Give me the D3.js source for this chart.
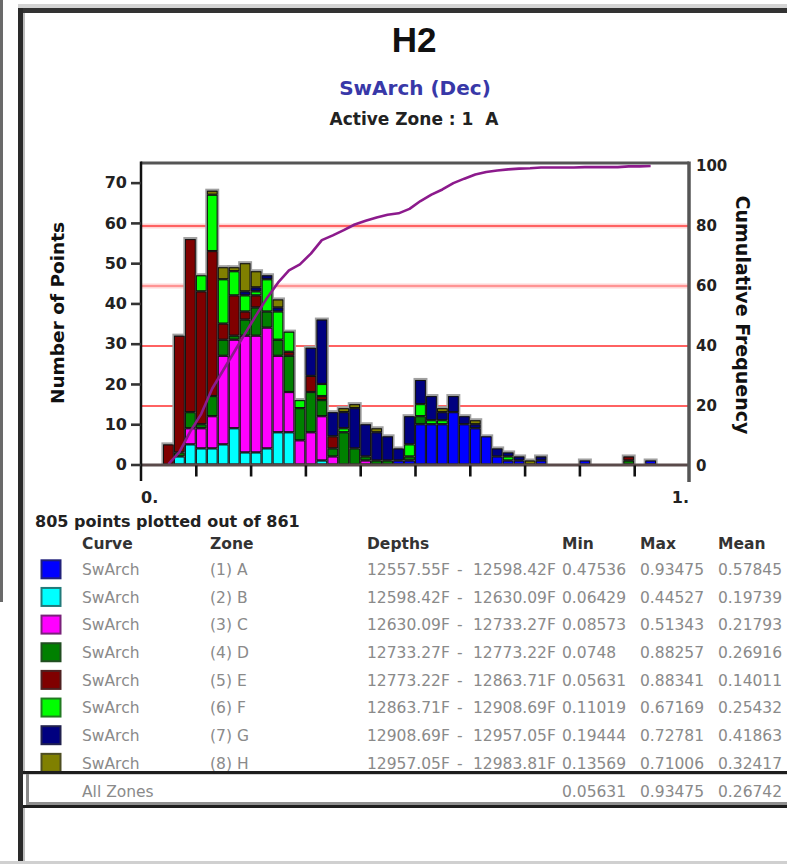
<!DOCTYPE html>
<html><head><meta charset="utf-8">
<script src="https://cdn.jsdelivr.net/npm/d3@7"></script>
<style>
html,body{margin:0;padding:0;background:#fff;}
svg{display:block;}
</style></head>
<body><svg id="c" width="787" height="864"></svg>
<script>
// ---------------- DATA ----------------
const titleText = "H2";
const curveTitle = "SwArch (Dec)";
const activeZoneText = "Active Zone : 1  A";
const plottedText = "805 points plotted out of 861";
const yLeftTicks = [0, 10, 20, 30, 40, 50, 60, 70];
const yRightTicks = [0, 20, 40, 60, 80, 100];
const gridValues = [20, 40, 60, 80];
const xTicks = [0.1, 0.2, 0.3, 0.4, 0.5, 0.6, 0.7, 0.8, 0.9];
const xTickLabels = [[0, "0."], [1, "1."]];
const binWidth = 0.02;
const zoneKeys = ["A", "B", "C", "D", "E", "F", "G", "H"];
const zoneColors = ["#0000ff", "#00ffff", "#ff00ff", "#008000", "#800000", "#00ff00", "#000080", "#808000"];
// counts per 0.02 bin (bins 0..49)
const zoneA = [0,0,0,0,0,0,0,0,0,0, 0,0,0,0,0,0,0,0,0,0, 0,0,0,1,1,10,10,10,13,10, 9,7,2,1,1,0,1,0,0,0, 1,0,0,0,0,0,1,0,0,0];
const zoneB = [0,0,0,2,5,4,4,5,9,3, 3,4,8,8,0,0,1,0,0,0, 0,0,0,0,0,0,0,0,0,0, 0,0,0,0,0,0,0,0,0,0, 0,0,0,0,0,0,0,0,0,0];
const zoneC = [0,0,0,0,4,5,8,22,22,29, 29,30,19,10,6,8,11,2,0,0, 1,0,0,0,0,0,0,0,0,0, 0,0,0,0,0,0,0,0,0,0, 0,0,0,0,0,0,0,0,0,0];
const zoneD = [0,0,0,1,4,1,5,4,1,4, 7,4,4,9,8,10,4,2,8,4, 1,1,1,0,1,2,0,0,0,0, 0,0,0,0,0,0,0,0,0,0, 0,0,0,0,1,0,0,0,0,0];
const zoneE = [0,0,5,29,43,33,36,4,10,2, 3,0,0,1,0,4,1,3,0,0, 0,0,0,0,0,0,0,0,0,0, 0,0,0,0,0,0,0,0,0,0, 0,0,0,0,1,0,0,0,0,0];
const zoneF = [0,0,0,0,0,4,14,11,6,4, 1,8,7,5,2,0,3,0,1,0, 0,0,0,0,3,3,1,1,0,0, 0,0,0,1,0,0,0,0,0,0, 0,0,0,0,0,0,0,0,0,0];
const zoneG = [0,0,0,0,0,0,0,0,0,1, 1,1,1,0,0,7,16,6,4,10, 8,7,6,3,7,6,6,2,4,2, 1,0,2,1,1,0,1,0,0,0, 0,0,0,0,0,0,0,0,0,0];
const zoneH = [0,0,0,0,0,0,1,3,1,7, 4,0,2,0,0,0,0,0,1,1, 0,1,0,0,0,0,0,1,0,0, 1,0,0,0,0,1,0,0,0,0, 0,0,0,0,0,0,0,0,0,0];
const zoneSeries = [zoneA, zoneB, zoneC, zoneD, zoneE, zoneF, zoneG, zoneH];

// table
const tableHeaders = ["Curve", "Zone", "Depths", "Min", "Max", "Mean"];
const tableCurves = ["SwArch","SwArch","SwArch","SwArch","SwArch","SwArch","SwArch","SwArch"];
const tableZones = ["(1) A","(2) B","(3) C","(4) D","(5) E","(6) F","(7) G","(8) H"];
const depthTop = ["12557.55F","12598.42F","12630.09F","12733.27F","12773.22F","12863.71F","12908.69F","12957.05F"];
const depthBottom = ["12598.42F","12630.09F","12733.27F","12773.22F","12863.71F","12908.69F","12957.05F","12983.81F"];
const zoneMin = ["0.47536","0.06429","0.08573","0.0748","0.05631","0.11019","0.19444","0.13569"];
const zoneMax = ["0.93475","0.44527","0.51343","0.88257","0.88341","0.67169","0.72781","0.71006"];
const zoneMean = ["0.57845","0.19739","0.21793","0.26916","0.14011","0.25432","0.41863","0.32417"];
const allZonesLabel = "All Zones";
const allMin = "0.05631", allMax = "0.93475", allMean = "0.26742";

// ---------------- DRAW ----------------
const svg = d3.select("#c");
const F = "'DejaVu Sans', sans-serif";

// window chrome
svg.append("rect").attr("x",0).attr("y",0).attr("width",3).attr("height",602).attr("fill","#6a6a6a");
svg.append("rect").attr("x",18).attr("y",4).attr("width",769).attr("height",4).attr("fill","#d4d4d4");
svg.append("rect").attr("x",18).attr("y",8).attr("width",769).attr("height",5).attr("fill","#333");
svg.append("rect").attr("x",18).attr("y",8).attr("width",5).attr("height",856).attr("fill","#2a2a2a");
svg.append("rect").attr("x",23).attr("y",13).attr("width",2).attr("height",851).attr("fill","#bdbdbd");

// titles
svg.append("text").attr("x",414).attr("y",52).attr("text-anchor","middle")
  .attr("font-family","'Liberation Sans', Arial, sans-serif").attr("font-weight","bold")
  .attr("font-size",35).attr("fill","#111").text(titleText);
svg.append("text").attr("x",415).attr("y",95).attr("text-anchor","middle")
  .attr("font-family",F).attr("font-weight","bold").attr("font-size",20)
  .attr("fill","#3838a8").text(curveTitle);
svg.append("text").attr("x",414).attr("y",125).attr("text-anchor","middle")
  .attr("font-family",F).attr("font-weight","bold").attr("font-size",17)
  .attr("fill","#222").style("white-space","pre").text(activeZoneText);

// scales
const x = d3.scaleLinear().domain([0,1]).range([141,689]);
const yL = d3.scaleLinear().domain([0,75]).range([464.5,162.5]);
const yR = d3.scaleLinear().domain([0,100]).range([466,166]);

// grid lines (cumulative frequency reference lines)
gridValues.forEach(v => {
  const light = v === 60;
  svg.append("line").attr("x1",x(0)).attr("x2",x(1)).attr("y1",yR(v)).attr("y2",yR(v))
    .attr("stroke","#ffd6d6").attr("stroke-width", (v===60||v===80)?5:0);
  svg.append("line").attr("x1",x(0)).attr("x2",x(1)).attr("y1",yR(v)).attr("y2",yR(v))
    .attr("stroke", light ? "#ff9494" : "#ff6262").attr("stroke-width",2.2);
});

// stacked bars
const rows = d3.range(zoneA.length).map(i => {
  const r = {bin: i};
  zoneKeys.forEach((k, j) => r[k] = zoneSeries[j][i]);
  return r;
});
const stacked = d3.stack().keys(zoneKeys)(rows);
const totals = rows.map(r => d3.sum(zoneKeys, k => r[k]));

const gBars = svg.append("g");
gBars.selectAll("rect.halo").data(rows.filter((r,i) => totals[i] > 0)).join("rect")
  .attr("class","halo")
  .attr("x", d => x(d.bin*binWidth) - 0.5)
  .attr("width", d => x((d.bin+1)*binWidth) - x(d.bin*binWidth) + 1)
  .attr("y", d => yL(totals[d.bin]) - 1)
  .attr("height", d => yL(0) - yL(totals[d.bin]) + 1)
  .attr("fill","#444").attr("stroke","#a0a0a0").attr("stroke-width",2);
stacked.forEach((s, j) => {
  gBars.selectAll(null).data(s.filter(d => d[1] > d[0])).join("rect")
    .attr("x", d => x(d.data.bin*binWidth) + 0.6)
    .attr("width", d => x((d.data.bin+1)*binWidth) - x(d.data.bin*binWidth) - 1.2)
    .attr("y", d => yL(d[1]) + 0.6)
    .attr("height", d => Math.max(0.5, yL(d[0]) - yL(d[1]) - 1.2))
    .attr("fill", zoneColors[j])
    .attr("stroke","#111").attr("stroke-width",1);
});

// cumulative frequency
const total = d3.sum(totals);
const nz = totals.map((t,i)=>t>0?i:-1).filter(i=>i>=0);
const first = nz[0], last = nz[nz.length-1];
let acc = 0;
const cum = [];
totals.forEach((t,i) => { acc += t; if (i >= first && i <= last) cum.push([(i+0.5)*binWidth, acc/total*100]); });
svg.append("path").datum(cum)
  .attr("d", d3.line().x(d => x(d[0])).y(d => yR(d[1])))
  .attr("fill","none").attr("stroke","#8c1a8c").attr("stroke-width",2.6)
  .attr("stroke-linejoin","round");

// frame / axes
svg.append("line").attr("x1",x(0)).attr("x2",x(1)).attr("y1",163).attr("y2",163)
  .attr("stroke","#555").attr("stroke-width",3);
svg.append("line").attr("x1",x(0)).attr("x2",x(1)).attr("y1",yL(0)+0.5).attr("y2",yL(0)+0.5)
  .attr("stroke","#5a4a4a").attr("stroke-width",3);
svg.append("line").attr("x1",x(1)).attr("x2",x(1)).attr("y1",161.5).attr("y2",482)
  .attr("stroke","#555").attr("stroke-width",3.5);
svg.append("line").attr("x1",x(0)).attr("x2",x(0)).attr("y1",161.5).attr("y2",481)
  .attr("stroke","#111").attr("stroke-width",2.5);

const axL = svg.append("g").attr("transform",`translate(${x(0)},0)`)
  .call(d3.axisLeft(yL).tickValues(yLeftTicks).tickSize(10).tickPadding(4).tickFormat(d3.format("d")));
axL.select(".domain").remove();
axL.selectAll(".tick line").attr("stroke","#333").attr("stroke-width",2.6);
axL.selectAll(".tick text").attr("font-family",F).attr("font-weight","bold").attr("font-size",16).attr("fill","#222");

const axR = svg.append("g").attr("transform",`translate(${x(1)},0)`)
  .call(d3.axisRight(yR).tickValues(yRightTicks).tickSize(0).tickPadding(7).tickFormat(d3.format("d")));
axR.select(".domain").remove();
axR.selectAll(".tick text").attr("font-family",F).attr("font-weight","bold").attr("font-size",15).attr("fill","#222");

const axB = svg.append("g").attr("transform",`translate(0,${yL(0)+1})`)
  .call(d3.axisBottom(x).tickValues(xTicks).tickSize(11).tickFormat(""));
axB.select(".domain").remove();
axB.selectAll(".tick line").attr("stroke","#111").attr("stroke-width",2.6);
xTickLabels.forEach(([v, t]) => {
  svg.append("text").attr("x", x(v)).attr("y", 503)
    .attr("text-anchor", v === 0 ? "start" : "end")
    .attr("font-family",F).attr("font-weight","bold").attr("font-size",16).attr("fill","#222").text(t);
});

svg.append("text").attr("transform","translate(64,313) rotate(-90)").attr("text-anchor","middle")
  .attr("font-family",F).attr("font-weight","bold").attr("font-size",18.5).attr("fill","#111").text("Number of Points");
svg.append("text").attr("transform","translate(736,315) rotate(90)").attr("text-anchor","middle")
  .attr("font-family",F).attr("font-weight","bold").attr("font-size",19).attr("fill","#111").text("Cumulative Frequency");

svg.append("text").attr("x",35).attr("y",527).attr("font-family",F).attr("font-weight","bold")
  .attr("font-size",16).attr("fill","#222").text(plottedText);

// table
const colX = {swatch: 41.5, curve: 82, zone: 210, depth: 367, dash: 457, depth2: 473, min: 562, max: 640, mean: 718};
const headerY = 542.7, row0 = 569.3, rowStep = 27.65;
const hdrX = [colX.curve, colX.zone, colX.depth, colX.min, colX.max, colX.mean];
tableHeaders.forEach((h,i) => {
  svg.append("text").attr("x",hdrX[i]).attr("y",headerY+5.8).attr("font-family",F).attr("font-weight","bold")
    .attr("font-size",15.5).attr("fill","#333").text(h);
});
const bodyTxt = (xx, yy, t) => svg.append("text").attr("x",xx).attr("y",yy).attr("font-family",F)
  .attr("font-size",15.5).attr("fill","#8a8a8a").text(t);
zoneKeys.forEach((k,i) => {
  const cy = row0 + i*rowStep;
  svg.append("rect").attr("x",colX.swatch).attr("y",cy-9).attr("width",19).attr("height",18)
    .attr("fill",zoneColors[i]).attr("stroke", d3.interpolateRgb(zoneColors[i], "#333")(0.65)).attr("stroke-width",2);
  const by = cy + 5.8;
  bodyTxt(colX.curve, by, tableCurves[i]);
  bodyTxt(colX.zone, by, tableZones[i]);
  bodyTxt(colX.depth, by, depthTop[i]);
  bodyTxt(colX.dash, by, "-");
  bodyTxt(colX.depth2, by, depthBottom[i]);
  bodyTxt(colX.min, by, zoneMin[i]);
  bodyTxt(colX.max, by, zoneMax[i]);
  bodyTxt(colX.mean, by, zoneMean[i]);
});
svg.append("rect").attr("x",23).attr("y",772).attr("width",764).attr("height",36).attr("fill","#fff");
svg.append("rect").attr("x",23).attr("y",771).attr("width",764).attr("height",3.2).attr("fill","#1e1e1e");
svg.append("rect").attr("x",26).attr("y",774).attr("width",3).attr("height",31).attr("fill","#8a8a8a");
svg.append("rect").attr("x",26).attr("y",802).attr("width",761).attr("height",3).attr("fill","#8f8f8f");
svg.append("rect").attr("x",23).attr("y",805).attr("width",764).attr("height",3).attr("fill","#1e1e1e");
const ay = 790.7 + 5.8;
bodyTxt(colX.curve, ay, allZonesLabel);
bodyTxt(colX.min, ay, allMin);
bodyTxt(colX.max, ay, allMax);
bodyTxt(colX.mean, ay, allMean);
svg.append("rect").attr("x",0).attr("y",861).attr("width",787).attr("height",3).attr("fill","#d0d0d0");
</script>
</body></html>
